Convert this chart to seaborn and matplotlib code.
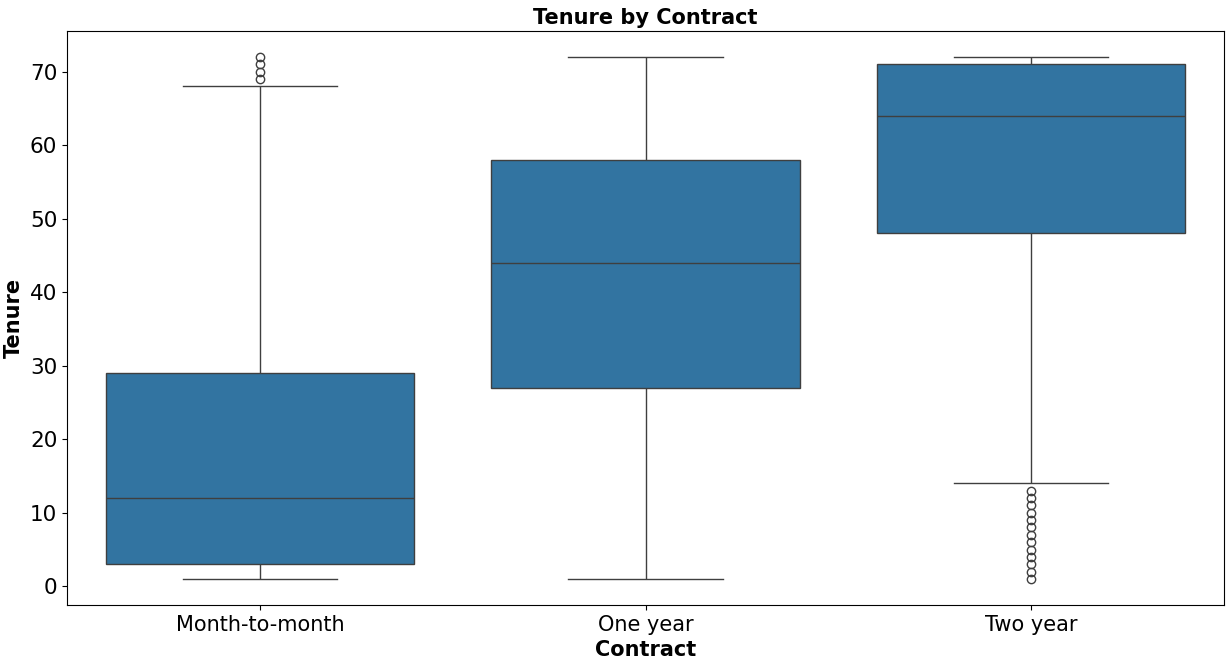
import pandas as pd
import seaborn as sns
import matplotlib.pyplot as plt

# Tenure samples per contract type (chosen to match the box stats in the chart)
month_to_month = [1, 1, 2, 2, 3, 3, 5, 7, 9, 11, 12, 14, 17, 20, 25, 29,
                  68, 69, 70, 71, 72]
one_year = [1, 14, 27, 36, 44, 51, 58, 66, 72]
two_year = [1, 2, 3, 4, 5, 6, 7, 8, 9, 10, 11, 12, 13, 14, 30,
            48, 50, 52, 53, 54, 55, 56, 57, 58, 59, 60, 61, 62, 63, 63,
            64, 65, 65, 66, 66, 67, 67, 68, 68, 69, 69, 70, 70, 71, 71,
            71, 71, 71, 71, 71, 72, 72, 72, 72, 72, 72, 72, 72, 72, 72, 72]

contracts = ['Month-to-month', 'One year', 'Two year']
groups = [month_to_month, one_year, two_year]

df = pd.DataFrame({
    'Contract': [c for c, g in zip(contracts, groups) for _ in g],
    'tenure': [v for g in groups for v in g],
})

plt.figure(figsize=(12.3, 6.65), dpi=100)
ax = sns.boxplot(x='Contract', y='tenure', data=df, order=contracts)
ax.set_title('Tenure by Contract', fontsize=15, fontweight='bold', pad=5)
ax.set_xlabel('Contract', fontsize=15, fontweight='bold')
ax.set_ylabel('Tenure', fontsize=15, fontweight='bold')
ax.tick_params(axis='x', labelsize=15)
ax.tick_params(axis='y', labelsize=15.5)
plt.subplots_adjust(left=67 / 1230, right=1224 / 1230, top=1 - 31 / 665, bottom=1 - 605 / 665)
plt.savefig('out.png', dpi=100)
